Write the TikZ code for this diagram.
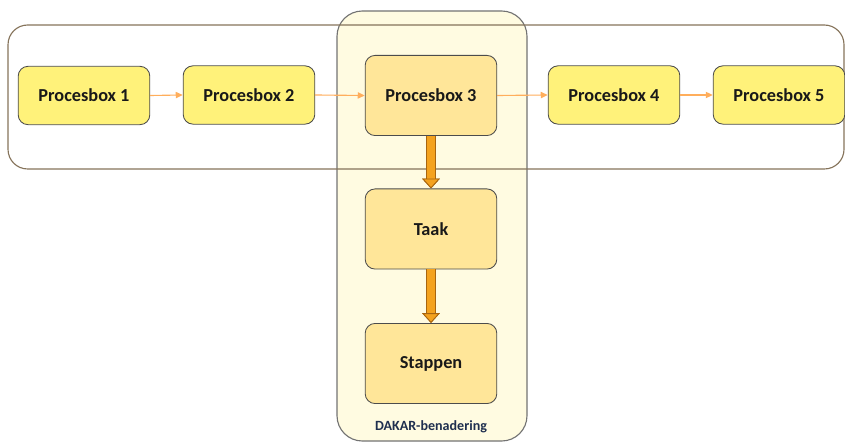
\documentclass[tikz,border=0pt]{standalone}
\usepackage{fontspec}
\setmainfont{Carlito}
\usepackage{xcolor}
\usepackage{tikz}
\usetikzlibrary{arrows.meta}

\definecolor{procgeel}{HTML}{FFF27A}
\definecolor{dakargeel}{HTML}{FFE699}
\definecolor{dakarvlak}{HTML}{FFFBE1}
\definecolor{kaderbruin}{HTML}{85735A}
\definecolor{dunoranje}{HTML}{FFAE5C}
\definecolor{pijlvul}{HTML}{F4A21E}
\definecolor{pijlrand}{HTML}{A8650F}
\definecolor{labelblauw}{HTML}{1F2F4F}

\tikzset{
  procbox/.style={draw=black!70, fill=procgeel, rounded corners=7pt, line width=0.6pt,
    minimum width=93.6pt, minimum height=41.5pt, inner sep=0pt,
    font=\fontsize{13}{15}\selectfont\bfseries, text=black!90},
  dakarbox/.style={procbox, fill=dakargeel, minimum height=57pt},
  dunpijl/.style={draw=dunoranje, line width=0.8pt, -{Triangle[width=4.5pt,length=5pt]}},
  dikpijl/.style={draw=pijlvul, line width=5.7pt,
    -{Triangle[width=12.5pt,length=7pt,line width=0.6pt,fill=pijlvul,color=pijlrand]},
    preaction={draw=pijlrand, line width=6.9pt,
      -{Triangle[width=12.5pt,length=7pt,line width=0.6pt,fill=pijlvul,color=pijlrand]}}}
}

\begin{document}
\begin{tikzpicture}[x=0.025cm, y=-0.025cm]
\useasboundingbox (0,0) rectangle (845,444);
% kaders
\filldraw[fill=dakarvlak, draw=black!55, line width=0.8pt, rounded corners=18pt] (337,11) rectangle (527,441);
\draw[kaderbruin, line width=0.8pt, rounded corners=14pt] (8,25) rectangle (844,169);

\node[procbox] (p1) at (84,95.5) {Procesbox 1};
\node[procbox] (p2) at (249,95) {Procesbox 2};
\node[dakarbox] (p3) at (431,95.5) {Procesbox 3};
\node[procbox] (p4) at (614,95) {Procesbox 4};
\node[procbox] (p5) at (779,95) {Procesbox 5};
\node[dakarbox] (taak) at (431,229) {Taak};
\node[dakarbox] (stappen) at (431,363.5) {Stappen};
\node[font=\fontsize{10}{12}\selectfont\bfseries, text=labelblauw] (dakar) at (431,427) {DAKAR-benadering};

\draw[dunpijl] (p1.east) -- (p2.west);
\draw[dunpijl] (p2.east) -- (p3.west);
\draw[dunpijl] (p3.east) -- (p4.west);
\draw[dunpijl] (p4.east) -- (p5.west);

\draw[dikpijl] (p3.south) -- (taak.north);
\draw[dikpijl] (taak.south) -- (stappen.north);
\end{tikzpicture}
\end{document}
